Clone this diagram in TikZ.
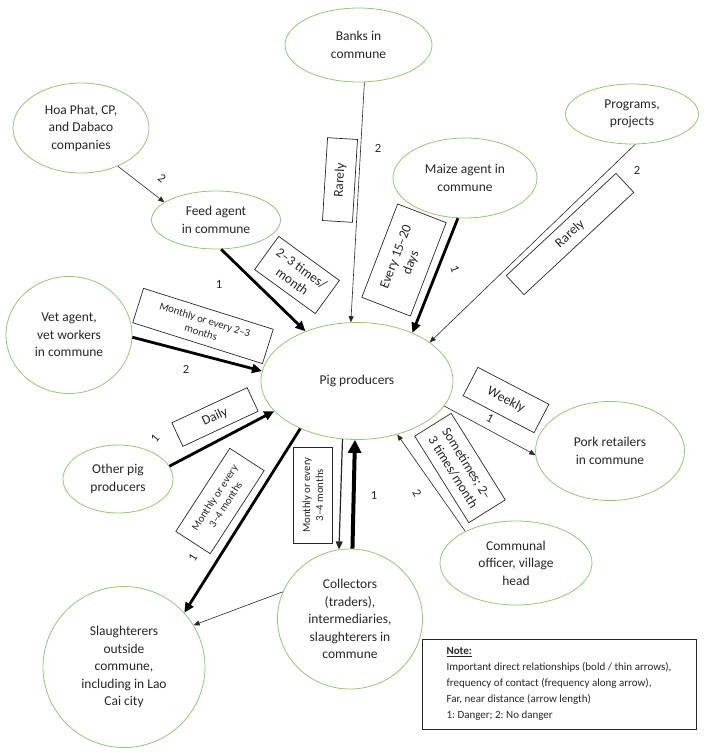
\documentclass[tikz,border=0pt]{standalone}
\usepackage{fontspec}
\setmainfont{Carlito}
\usetikzlibrary{shapes.geometric,arrows.meta}
\definecolor{leafgreen}{RGB}{146,200,110}
\definecolor{inkgray}{RGB}{38,38,38}
\newcommand{\fsmain}{\fontsize{13.5}{17.5}\selectfont}
\newcommand{\fsbox}{\fontsize{13.5}{16}\selectfont}
\newcommand{\fssmall}{\fontsize{10.8}{13}\selectfont}
\newcommand{\fsnote}{\fontsize{11}{16}\selectfont}
\frenchspacing
\tikzset{
  actor/.style={ellipse, draw=leafgreen, line width=0.8pt, inner sep=0pt,
    align=center, font=\fsmain, text=inkgray},
  freqbox/.style={draw=inkgray, line width=0.7pt, inner sep=0pt,
    align=center, font=\fsbox, text=inkgray},
  danger/.style={font=\fontsize{12.5}{14}\selectfont, text=inkgray, inner sep=1pt},
  strong/.style={draw=black, line width=2.8pt, -{Triangle[length=10pt,width=9pt]}},
  weak/.style={draw=inkgray, line width=0.6pt, -{Triangle[length=6pt,width=5pt]}}
}
\begin{document}
\begin{tikzpicture}[x=1pt, y=-1pt]
		\useasboundingbox (0,0) rectangle (708,756);
		
		% actors
		\node[actor, minimum width=147pt, minimum height=74pt] (banks) at (358.5,45) {Banks in\\commune};
		\node[actor, minimum width=136pt, minimum height=90pt] (hoa) at (81,128) {Hoa Phat, CP,\\and Dabaco\\companies};
		\node[actor, minimum width=129pt, minimum height=58pt] (feed) at (216,220) {Feed agent\\in commune};
		\node[actor, minimum width=144pt, minimum height=80pt] (maize) at (465,178) {Maize agent in\\commune};
		\node[actor, minimum width=133pt, minimum height=60pt] (prog) at (632,114) {Programs,\\projects};
		\node[actor, minimum width=126pt, minimum height=117pt] (vet) at (69,335) {Vet agent,\\vet workers\\in commune};
		\node[actor, minimum width=192pt, minimum height=117pt] (pig) at (357,381) {Pig producers};
		\node[actor, minimum width=110pt, minimum height=68pt] (other) at (118,479) {Other pig\\producers};
		\node[actor, minimum width=149pt, minimum height=99pt] (pork) at (610,451) {Pork retailers\\in commune};
		\node[actor, minimum width=152pt, minimum height=84pt] (officer) at (516,563) {Communal\\officer, village\\head};
		\node[actor, minimum width=145pt, minimum height=140pt] (coll) at (350,619) {Collectors\\(traders),\\intermediaries,\\slaughterers in\\commune};
		\node[actor, minimum width=162pt, minimum height=161pt] (slau) at (124,667) {Slaughterers\\outside\\commune,\\including in Lao\\Cai city};
		
		% relations
		\draw[weak] (hoa.-46) -- (feed.161);
		\draw[weak] (banks.-81) -- (pig.96);
		\draw[strong] (feed.-80) -- (pig.136);
		\draw[strong] (vet.-2) -- (pig.174);
		\draw[strong] (other.14) -- (pig.200);
		\draw[strong] (pig.220) -- (slau.42);
		\draw[weak, line width=1.2pt, -{Triangle[length=8pt,width=7pt]}] (pig.256) -- (coll.99);
		\draw[strong, line width=4pt, -{Triangle[length=13pt,width=13pt]}] (coll.88) -- (pig.268);
		\draw[weak] (coll.158) -- (slau.31);
		\draw[weak] (officer.148) -- (pig.-53);
		\draw[weak] (pig.-16) -- (pork.183);
		\draw[strong] (maize.-100) -- (pig.41);
		\draw[weak] (prog.-84) -- (pig.28);
		
		% frequency boxes
		\node[freqbox, rotate=86.5, minimum width=83pt, minimum height=30pt] (fBanks) at (340,180) {Rarely};
		\node[freqbox, rotate=-36, minimum width=75pt, minimum height=41pt] (fFeed) at (297,275) {2--3 times/\\month};
		\node[freqbox, rotate=-17.5, minimum width=136pt, minimum height=36pt, font=\fssmall] (fVet) at (203,326) {Monthly or every 2--3\\months};
		\node[freqbox, rotate=25, minimum width=83pt, minimum height=26pt] (fOther) at (215,417) {Daily};
		\node[freqbox, rotate=57, minimum width=99pt, minimum height=41pt, font=\fssmall] (fSlau) at (220,501) {Monthly or every\\3--4 months};
		\node[freqbox, rotate=90, minimum width=96pt, minimum height=39pt, font=\fssmall] (fColl) at (313,495) {Monthly or every\\3--4 months};
		\node[freqbox, rotate=-58, minimum width=102pt, minimum height=43pt] (fOfficer) at (460,468) {Sometimes; 2--\\3 times/month};
		\node[freqbox, rotate=-27.5, minimum width=80pt, minimum height=32pt] (fPork) at (506,400) {Weekly};
		\node[freqbox, rotate=69, minimum width=100pt, minimum height=52pt] (fMaize) at (404,260) {Every 15--20\\days};
		\node[freqbox, rotate=43, minimum width=150pt, minimum height=26pt] (fProg) at (570,234) {Rarely};
		
		% danger marks
		\node[danger, rotate=-40] (dHoa) at (162,178) {2};
		\node[danger] (dBanks) at (378,148) {2};
		\node[danger] (dFeed) at (219,284) {1};
		\node[danger] (dVet) at (186,369) {2};
		\node[danger, rotate=50] (dOther) at (155,438) {1};
		\node[danger, rotate=58] (dSlau) at (193,558) {1};
		\node[danger] (dColl) at (374,495) {1};
		\node[danger, rotate=-60] (dOfficer) at (417,493) {2};
		\node[danger, rotate=-28] (dPork) at (490,418) {1};
		\node[danger, rotate=-70] (dMaize) at (455,269) {1};
		\node[danger] (dProg) at (637,170) {2};
		
		% note
		\node[draw=inkgray, line width=0.8pt, minimum width=274pt, minimum height=90pt,
		  align=left, font=\fsnote, text=inkgray] (note) at (559,684)
		  {\underline{\textbf{Note:}}\\Important direct relationships (bold / thin arrows),\\frequency of contact (frequency along arrow),\\Far, near distance (arrow length)\\1: Danger; 2: No danger};
\end{tikzpicture}
\end{document}
